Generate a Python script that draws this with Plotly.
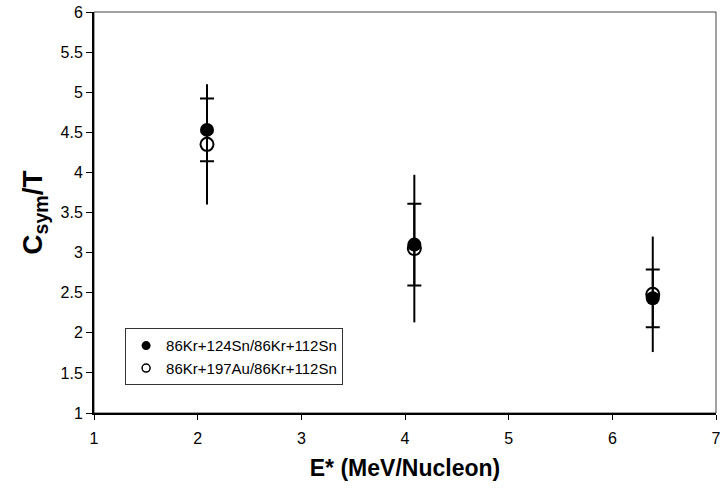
import plotly.graph_objects as go

x_vals = [2.09, 4.09, 6.39]
kr_sn_y = [4.53, 3.10, 2.43]
kr_sn_err = [0.39, 0.51, 0.36]
kr_au_y = [4.35, 3.05, 2.48]
kr_au_err = [0.75, 0.92, 0.72]
names = ["86Kr+124Sn/86Kr+112Sn", "86Kr+197Au/86Kr+112Sn"]
x_ticks = [1, 2, 3, 4, 5, 6, 7]
y_ticks = [1, 1.5, 2, 2.5, 3, 3.5, 4, 4.5, 5, 5.5, 6]

FONT = "Liberation Sans, Arial, sans-serif"

fig = go.Figure()
fig.add_trace(go.Scatter(
    x=x_vals, y=kr_au_y, mode="markers", name=names[1], showlegend=False,
    marker=dict(symbol="circle-open", size=13, color="black", line=dict(width=2, color="black")),
    error_y=dict(type="data", array=kr_au_err, visible=True, color="black", thickness=2, width=0),
))
fig.add_trace(go.Scatter(
    x=x_vals, y=kr_sn_y, mode="markers", name=names[0], showlegend=False,
    marker=dict(symbol="circle", size=14, color="black"),
    error_y=dict(type="data", array=kr_sn_err, visible=True, color="black", thickness=2, width=7),
))
# legend entries (smaller symbols as in the reference legend)
fig.add_trace(go.Scatter(
    x=[None], y=[None], mode="markers", name=names[0], legendgroup="a",
    marker=dict(symbol="circle", size=9, color="black"),
))
fig.add_trace(go.Scatter(
    x=[None], y=[None], mode="markers", name=names[1], legendgroup="b",
    marker=dict(symbol="circle-open", size=8, color="black", line=dict(width=1.5, color="black")),
))

fig.update_layout(
    width=722, height=495,
    margin=dict(l=94, r=6, t=12, b=82),
    paper_bgcolor="white", plot_bgcolor="white",
    font=dict(family=FONT, size=16, color="black"),
    showlegend=True,
    legend=dict(
        x=0.05, y=0.14, xanchor="left", yanchor="middle",
        bgcolor="white", bordercolor="#333333", borderwidth=1,
        font=dict(size=15, family=FONT), traceorder="normal",
        itemsizing="trace", tracegroupgap=8, itemwidth=30,
    ),
    xaxis=dict(
        range=[1, 7], tickvals=x_ticks, showgrid=False, zeroline=False,
        showline=True, linecolor="black", linewidth=1.5, mirror=False,
        ticks="outside", ticklen=5, tickcolor="black", automargin=False,
        tickfont=dict(size=16, family=FONT), ticklabelstandoff=5,
        title=dict(text="<b>E* (MeV/Nucleon)</b>", font=dict(size=23, family=FONT), standoff=14),
    ),
    yaxis=dict(
        range=[1, 6], tickvals=y_ticks, ticktext=[f"{v:g}" for v in y_ticks],
        showgrid=False, zeroline=False,
        showline=True, linecolor="black", linewidth=2, mirror=False,
        ticks="outside", ticklen=6, tickcolor="black", automargin=False,
        tickfont=dict(size=16, family=FONT),
        title=dict(text="<b>C<sub>sym</sub>/T</b>", font=dict(size=28, family=FONT), standoff=10),
    ),
    shapes=[dict(type="rect", xref="paper", yref="paper", x0=0, y0=0, x1=1, y1=1,
                 line=dict(color="#444444", width=1), layer="below")],
)

fig.write_html("out.html", config={"displayModeBar": False},
               post_script="document.body.style.margin='0';")
